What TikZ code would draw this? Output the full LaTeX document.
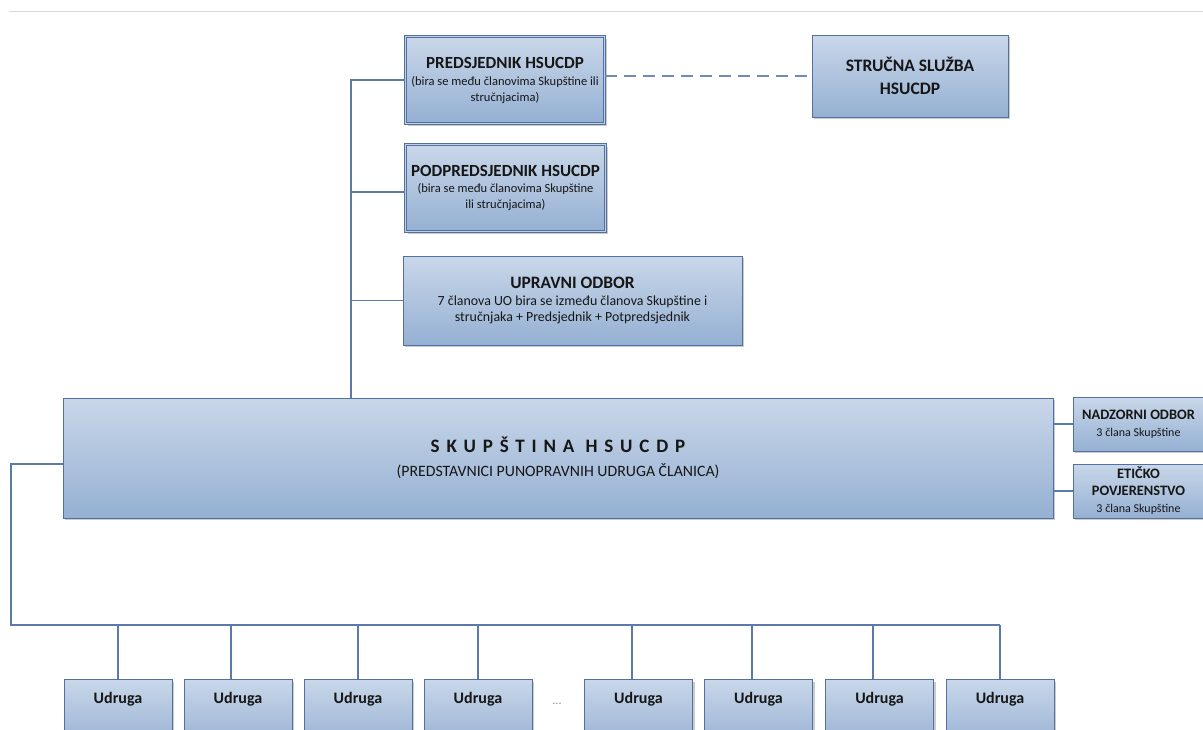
\documentclass[tikz,border=0pt]{standalone}
\usepackage{fontspec}
\setmainfont{Carlito}
\usetikzlibrary{shadows}
\definecolor{bord}{RGB}{82,112,160}
\definecolor{topc}{RGB}{201,215,233}
\definecolor{botc}{RGB}{149,176,211}
\definecolor{conn}{RGB}{92,122,168}
\definecolor{dashc}{RGB}{112,140,182}
\definecolor{txt}{RGB}{22,22,22}
\newcommand\ttl[1]{{\fontsize{17}{19}\selectfont\bfseries #1}}
\newcommand\sbt[1]{{\fontsize{12.5}{16}\selectfont #1}}
\tikzset{
  box/.style={draw=bord, line width=1pt, top color=topc, bottom color=botc,
    drop shadow={shadow xshift=2pt, shadow yshift=-2pt, fill=black!45, opacity=0.45},
    inner sep=0pt, align=center, text=txt, font=\fontsize{12.5}{16}\selectfont},
  dbox/.style={box, double=topc!80!botc, double distance=1.8pt, line width=0.9pt},
  conline/.style={draw=conn, line width=1.7pt},
  dashline/.style={draw=dashc, line width=2.4pt, dash pattern=on 12pt off 7pt},
  udr/.style={box, anchor=north, minimum width=108pt, text height=24pt, text depth=46pt,
    font=\fontsize{16}{18}\selectfont\bfseries},
}
\begin{document}
\begin{tikzpicture}[x=1pt,y=-1pt]
\useasboundingbox (0,0) rectangle (1203,729);
\clip (0,0) rectangle (1203,729);
\fill[white] (0,0) rectangle (1203,729);
\draw[black!15, line width=0.8pt] (9,11) -- (1203,11);

% top boxes
\node[dbox, minimum width=199pt, minimum height=87pt] (pred) at (505,80)
  {\ttl{PREDSJEDNIK HSUCDP}\\[1pt]\sbt{(bira se među članovima Skupštine ili}\\\sbt{stručnjacima)}};
\node[dbox, minimum width=200pt, minimum height=87pt] (pod) at (505.5,188)
  {\ttl{PODPREDSJEDNIK HSUCDP}\\[0pt]\sbt{(bira se među članovima Skupštine}\\\sbt{ili stručnjacima)}};
\node[box, minimum width=196pt, minimum height=82pt, font=\fontsize{17.5}{23}\selectfont\bfseries] (str) at (910,76)
  {STRUČNA SLUŽBA\\HSUCDP};
\node[box, minimum width=339pt, minimum height=89pt, font=\fontsize{13.9}{16}\selectfont] (upr) at (572.5,300.5)
  {{\fontsize{17.4}{20}\selectfont\bfseries UPRAVNI ODBOR}\\[1pt]7 članova UO bira se između članova Skupštine i\\stručnjaka + Predsjednik + Potpredsjednik};

% assembly
\node[box, minimum width=990pt, minimum height=120pt, font=\fontsize{15.8}{24}\selectfont] (skup) at (558,458)
  {{\fontsize{19}{24}\selectfont\bfseries\addfontfeature{LetterSpace=36}SKUPŠTINA HSUCDP}\\(PREDSTAVNICI PUNOPRAVNIH UDRUGA ČLANICA)};

% side boxes
\node[box, minimum width=131pt, minimum height=54pt, font=\fontsize{12}{17}\selectfont] (nad) at (1138.5,424)
  {{\fontsize{14.4}{17}\selectfont\bfseries NADZORNI ODBOR}\\3 člana Skupštine};
\node[box, minimum width=131pt, minimum height=54pt, font=\fontsize{12}{17}\selectfont] (eti) at (1138.5,491)
  {{\fontsize{14.4}{17}\selectfont\bfseries ETIČKO}\\{\fontsize{14.4}{17}\selectfont\bfseries POVJERENSTVO}\\3 člana Skupštine};

% member associations
\node[udr] (u1) at (118,679) {Udruga};
\node[udr] (u2) at (238,679) {Udruga};
\node[udr] (u3) at (358,679) {Udruga};
\node[udr] (u4) at (478,679) {Udruga};
\node[udr] (u5) at (638.5,679) {Udruga};
\node[udr] (u6) at (758.5,679) {Udruga};
\node[udr] (u7) at (879.5,679) {Udruga};
\node[udr] (u8) at (1000,679) {Udruga};
\node[text=black!45, font=\fontsize{12}{12}\selectfont] (dots) at (557,704) {...};

% connectors
\coordinate (tk) at (351,398);
\coordinate (barL) at (11,625);
\draw[conline] (pred.west) -| (tk);
\draw[conline] ([yshift=-4pt]pod.west) -- ([yshift=-4pt]pod.west -| tk);
\draw[conline] (upr.west) -- (upr.west -| tk);
\draw[dashline] (str.west -| pred.east) -- (str.west);
\draw[conline] (nad.west -| skup.east) -- (nad.west);
\draw[conline] (eti.west -| skup.east) -- (eti.west);
\draw[conline] ([yshift=-6pt]skup.west) -| (barL) -- (barL -| u8.north);
\draw[conline] (u1.north |- barL) -- (u1.north);
\draw[conline] ([xshift=-7pt]u2.north |- barL) -- ([xshift=-7pt]u2.north);
\draw[conline] (u3.north |- barL) -- (u3.north);
\draw[conline] (u4.north |- barL) -- (u4.north);
\draw[conline] ([xshift=-6.5pt]u5.north |- barL) -- ([xshift=-6.5pt]u5.north);
\draw[conline] ([xshift=-6.5pt]u6.north |- barL) -- ([xshift=-6.5pt]u6.north);
\draw[conline] ([xshift=-6.5pt]u7.north |- barL) -- ([xshift=-6.5pt]u7.north);
\draw[conline] (u8.north |- barL) -- (u8.north);
\end{tikzpicture}
\end{document}
